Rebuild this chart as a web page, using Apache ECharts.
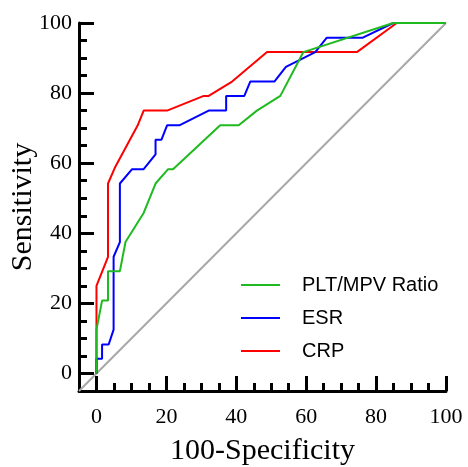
<!DOCTYPE html>
<html><head><meta charset="utf-8">
<script src="https://cdn.jsdelivr.net/npm/echarts@6/dist/echarts.min.js"></script>
<style>html,body{margin:0;padding:0;background:#fff}#c{width:468px;height:467px}</style>
</head><body><div id="c"></div>
<script>
// Tick values
const majorTicks = [0, 20, 40, 60, 80, 100];
const axisMin = -5, axisMax = 100;

// Series names (legend order)
const seriesNames = ['PLT/MPV Ratio', 'ESR', 'CRP'];

// PLT/MPV Ratio (100-Specificity, Sensitivity)
const pltX = [0, 0, 1.6, 3.3, 3.3, 6.7, 8.3, 13.5, 16.9, 20.5, 21.9, 35.4, 40.7, 45.9, 52.6, 59.2, 84.9, 100];
const pltY = [0, 12.5, 20.8, 20.8, 29.2, 29.2, 37.5, 45.8, 54.2, 58.3, 58.3, 70.8, 70.8, 75, 79.2, 91.7, 100, 100];

// ESR
const esrX = [0, 0, 1.6, 1.6, 3.5, 4.9, 4.9, 6.7, 6.7, 10.2, 13.5, 16.9, 16.9, 18.6, 20.2, 23.7, 32.1, 37.1, 37.1, 42.3, 44, 50.9, 54.2, 62.6, 65.9, 76.2, 84.9, 100];
const esrY = [0, 4.2, 4.2, 8.3, 8.3, 12.5, 33.3, 37.5, 54.2, 58.3, 58.3, 62.5, 66.7, 66.7, 70.8, 70.8, 75, 75, 79.2, 79.2, 83.3, 83.3, 87.5, 91.7, 95.8, 95.8, 100, 100];

// CRP
const crpX = [0, 0, 3.3, 3.3, 5.4, 11.8, 13.5, 20.2, 30.7, 32.1, 38.8, 48.8, 74.5, 85.9, 100];
const crpY = [0, 25, 33.3, 54.2, 59, 70.8, 75, 75, 79.2, 79.2, 83.3, 91.7, 91.7, 100, 100];

// Reference diagonal
const diagX = [-5, 100];
const diagY = [-5, 100];

const zip = (a, b) => a.map((v, i) => [v, b[i]]);
const serif = 'Liberation Serif, Times New Roman, serif';
const G = { left: 79, right: 22, top: 23, bottom: 76 };

function mainAxis(isX) {
  return {
    gridIndex: 0,
    type: 'value', min: axisMin, max: axisMax, interval: 5,
    position: isX ? 'bottom' : 'left',
    name: isX ? '100-Specificity' : 'Sensitivity',
    nameLocation: 'middle',
    nameGap: isX ? 45 : 41,
    nameMoveOverlap: false,
    nameTextStyle: { fontFamily: serif, fontSize: 30, color: '#000' },
    axisLine: { show: true, onZero: false, lineStyle: { color: '#000', width: 3 } },
    axisTick: { show: true, inside: true, length: 8, lineStyle: { color: '#000', width: 3 } },
    axisLabel: {
      show: true, margin: isX ? 15 : 7, fontFamily: serif, fontSize: 22, color: '#000',
      formatter: v => (majorTicks.indexOf(v) >= 0 ? String(v) : '')
    },
    splitLine: { show: false }
  };
}
// Hidden helper axis in grid 1 whose zero sits on the grid edge
function helperAxis() {
  return { gridIndex: 1, type: 'value', min: 0, max: axisMax - axisMin, show: false };
}
// Major-tick axis in grid 1, put onto the edge via onZero of the helper axis
function majorAxis(isX) {
  return {
    gridIndex: 1,
    type: 'value', min: axisMin, max: axisMax,
    position: isX ? 'bottom' : 'left',
    axisLine: { show: false, onZero: true, onZeroAxisIndex: 1 },
    axisTick: { show: true, inside: true, length: 15, customValues: majorTicks, lineStyle: { color: '#000', width: 3 } },
    axisLabel: { show: false },
    splitLine: { show: false }
  };
}

const colors = { 'PLT/MPV Ratio': '#1fba1f', 'ESR': '#0000ff', 'CRP': '#ff0000' };

const chart = echarts.init(document.getElementById('c'), null, { renderer: 'canvas' });
chart.setOption({
  animation: false,
  backgroundColor: '#fff',
  grid: [
    { left: G.left, right: G.right, top: G.top, bottom: G.bottom, containLabel: false, outerBoundsMode: 'none' },
    { left: G.left, right: G.right, top: G.top, bottom: G.bottom, containLabel: false, outerBoundsMode: 'none' }
  ],
  xAxis: [mainAxis(true), helperAxis(), majorAxis(true)],
  yAxis: [mainAxis(false), helperAxis(), majorAxis(false)],
  legend: {
    data: seriesNames,
    orient: 'vertical', left: 241, top: 275, padding: 0,
    icon: 'rect', itemWidth: 39, itemHeight: 2, itemGap: 13,
    textStyle: { fontFamily: 'Liberation Sans, Arial, sans-serif', fontSize: 20, lineHeight: 20, color: '#000', padding: [0, 0, 0, 17] }
  },
  series: [
    { type: 'line', name: 'diag', xAxisIndex: 0, yAxisIndex: 0, data: zip(diagX, diagY), symbol: 'none', clip: false, silent: true,
      lineStyle: { color: '#a8a8a8', width: 2 }, z: 1 },
    { type: 'line', name: 'CRP', xAxisIndex: 0, yAxisIndex: 0, data: zip(crpX, crpY), symbol: 'none', clip: false,
      color: colors['CRP'], lineStyle: { color: colors['CRP'], width: 2 }, z: 2 },
    { type: 'line', name: 'ESR', xAxisIndex: 0, yAxisIndex: 0, data: zip(esrX, esrY), symbol: 'none', clip: false,
      color: colors['ESR'], lineStyle: { color: colors['ESR'], width: 2 }, z: 3 },
    { type: 'line', name: 'PLT/MPV Ratio', xAxisIndex: 0, yAxisIndex: 0, data: zip(pltX, pltY), symbol: 'none', clip: false,
      color: colors['PLT/MPV Ratio'], lineStyle: { color: colors['PLT/MPV Ratio'], width: 2 }, z: 4 }
  ]
});
</script>
</body></html>
